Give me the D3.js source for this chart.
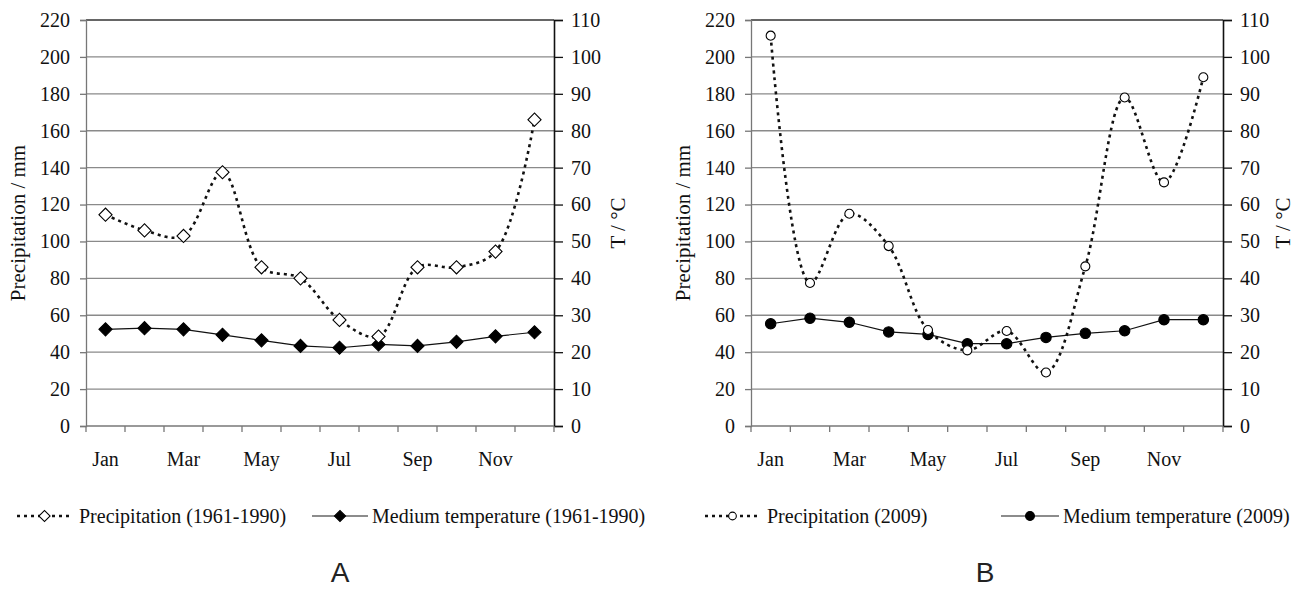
<!DOCTYPE html>
<html>
<head>
<meta charset="utf-8">
<script src="https://cdn.jsdelivr.net/npm/d3@7"></script>
<style>
	body { margin: 0; background: #fff; }
	svg { display: block; }
	.serif { font-family: 'Liberation Serif', 'Times New Roman', serif; fill: #111; }
</style>
</head>
<body>
<script>
var months = ['Jan', 'Feb', 'Mar', 'Apr', 'May', 'Jun', 'Jul', 'Aug', 'Sep', 'Oct', 'Nov', 'Dec'];
var monthLabels = ['Jan', 'Mar', 'May', 'Jul', 'Sep', 'Nov'];
var precipTicks = [0, 20, 40, 60, 80, 100, 120, 140, 160, 180, 200, 220];
var tempTicks = [0, 10, 20, 30, 40, 50, 60, 70, 80, 90, 100, 110];

// panel A: 1961-1990 averages
var precipA = [114.5, 106, 103, 137.5, 86, 80, 57.5, 48.5, 86, 86, 94.5, 166];
var tempA = [26.2, 26.5, 26.2, 24.7, 23.2, 21.7, 21.2, 22.1, 21.7, 22.8, 24.3, 25.4];
var legendA = ['Precipitation (1961-1990)', 'Medium temperature (1961-1990)'];

// panel B: 2009
var precipB = [211.5, 77.5, 115, 97.5, 52, 41, 51.5, 29, 86.5, 178, 132, 189];
var tempB = [27.7, 29.2, 28.1, 25.5, 24.8, 22.3, 22.3, 24.0, 25.1, 25.8, 28.8, 28.8];
var legendB = ['Precipitation (2009)', 'Medium temperature (2009)'];

var width = 1294, height = 589;
var top_ = 20, bottom = 426;
var serif = "'Liberation Serif', 'Times New Roman', serif";

var svg = d3.select('body').append('svg')
	.attr('width', width)
	.attr('height', height);

function styleTicks(axis, color) {
	axis.attr('font-family', serif).attr('font-size', 20);
	axis.select('.domain').attr('stroke', color).attr('stroke-width', color === '#111' ? 1.6 : 1.3);
	axis.selectAll('.tick line').attr('stroke', color).attr('stroke-width', 1.3);
	axis.selectAll('.tick text')
		.attr('class', 'serif')
		.attr('font-family', serif)
		.attr('fill', '#111');
}

function drawPanel(o) {
	var g = svg.append('g');

	var x = d3.scaleBand().domain(months).range([o.x0, o.x1]).padding(0);
	var yP = d3.scaleLinear().domain([0, 220]).range([bottom, top_]);
	var yT = d3.scaleLinear().domain([0, 110]).range([bottom, top_]);
	var cx = function(d, i) { return x(months[i]) + x.bandwidth() / 2; };

	// gridlines
	g.selectAll('line.grid')
		.data(precipTicks.slice(1))
		.enter().append('line')
		.attr('x1', o.x0).attr('x2', o.x1)
		.attr('y1', function(d) { return yP(d); })
		.attr('y2', function(d) { return yP(d); })
		.attr('stroke', function(d) { return d === 220 ? '#333' : '#8a8a8a'; })
		.attr('stroke-width', function(d) { return d === 220 ? 1.6 : 1.3; });

	// left axis
	var left = g.append('g').attr('transform', 'translate(' + o.x0 + ',0)')
		.call(d3.axisLeft(yP).tickValues(precipTicks).tickSize(6).tickPadding(10));
	styleTicks(left, '#777');

	// right axis
	var right = g.append('g').attr('transform', 'translate(' + o.x1 + ',0)')
		.call(d3.axisRight(yT).tickValues(tempTicks).tickSize(9).tickPadding(8));
	styleTicks(right, '#111');

	// bottom axis: ticks between months
	g.append('line')
		.attr('x1', o.x0).attr('x2', o.x1)
		.attr('y1', bottom).attr('y2', bottom)
		.attr('stroke', '#777').attr('stroke-width', 1.3);
	g.selectAll('line.xtick')
		.data(months.concat(['end']))
		.enter().append('line')
		.attr('x1', function(d, i) { return o.x0 + i * x.bandwidth(); })
		.attr('x2', function(d, i) { return o.x0 + i * x.bandwidth(); })
		.attr('y1', bottom).attr('y2', bottom + 6)
		.attr('stroke', '#777').attr('stroke-width', 1.3);
	g.selectAll('text.xlab')
		.data(monthLabels)
		.enter().append('text')
		.attr('class', 'serif')
		.attr('x', function(d) { return x(d) + x.bandwidth() / 2; })
		.attr('y', 466)
		.attr('text-anchor', 'middle')
		.attr('font-size', 20)
		.text(function(d) { return d; });

	// axis titles
	g.append('text').attr('class', 'serif')
		.attr('transform', 'translate(' + (o.x0 - 68) + ',' + ((top_ + bottom) / 2) + ') rotate(-90)')
		.attr('text-anchor', 'middle')
		.attr('dy', '0.35em')
		.attr('font-size', 21)
		.text('Precipitation / mm');
	g.append('text').attr('class', 'serif')
		.attr('transform', 'translate(' + (o.x1 + o.titleR) + ',' + ((top_ + bottom) / 2) + ') rotate(-90)')
		.attr('text-anchor', 'middle')
		.attr('dy', '0.35em')
		.attr('font-size', 21)
		.text('T / \u00B0C');

	// temperature line
	var tLine = d3.line().x(cx).y(function(d) { return yT(d); });
	g.append('path')
		.attr('d', tLine(o.temp))
		.attr('fill', 'none')
		.attr('stroke', '#111')
		.attr('stroke-width', 1.2);

	// precipitation line (smoothed)
	var pLine = d3.line().x(cx).y(function(d) { return yP(d); }).curve(d3.curveCatmullRom.alpha(0.5));
	g.append('path')
		.attr('d', pLine(o.precip))
		.attr('fill', 'none')
		.attr('stroke', '#111')
		.attr('stroke-width', 2.6)
		.attr('stroke-dasharray', '3 4');

	drawMarkers(g, o.temp.map(function(d, i) { return [cx(d, i), yT(d)]; }), o.marker, true);
	drawMarkers(g, o.precip.map(function(d, i) { return [cx(d, i), yP(d)]; }), o.marker, false);

	// legend
	var ly = 516;
	g.append('line')
		.attr('x1', o.leg[0]).attr('x2', o.leg[1])
		.attr('y1', ly).attr('y2', ly)
		.attr('stroke', '#111').attr('stroke-width', 2.6).attr('stroke-dasharray', '3 4');
	drawMarkers(g, [[(o.leg[0] + o.leg[1]) / 2, ly]], o.marker, false, 0.85);
	g.append('text').attr('class', 'serif')
		.attr('x', o.leg[2]).attr('y', ly + 7)
		.attr('font-size', 20)
		.text(o.legend[0]);

	g.append('line')
		.attr('x1', o.leg[3]).attr('x2', o.leg[4])
		.attr('y1', ly).attr('y2', ly)
		.attr('stroke', '#666').attr('stroke-width', 1.5);
	drawMarkers(g, [[(o.leg[3] + o.leg[4]) / 2, ly]], o.marker, true, 0.85);
	g.append('text').attr('class', 'serif')
		.attr('x', o.leg[5]).attr('y', ly + 7)
		.attr('font-size', 20)
		.text(o.legend[1]);

	// panel letter
	g.append('text')
		.attr('x', o.letterX).attr('y', 582)
		.attr('text-anchor', 'middle')
		.attr('font-family', "'Liberation Sans', Arial, sans-serif")
		.attr('font-size', 28)
		.attr('fill', '#222')
		.text(o.letter);
}

function drawMarkers(g, pts, kind, filled, scale) {
	var s = scale || 1;
	var sym = kind === 'diamond'
		? d3.symbol().type(d3.symbolSquare).size(86 * s * s)
		: d3.symbol().type(d3.symbolCircle).size((filled ? 85 : 64) * s * s);
	g.selectAll(null)
		.data(pts)
		.enter().append('path')
		.attr('d', sym())
		.attr('transform', function(d) {
			return 'translate(' + d[0] + ',' + d[1] + ')' + (kind === 'diamond' ? ' rotate(45)' : '');
		})
		.attr('fill', filled ? '#000' : '#fff')
		.attr('stroke', '#000')
		.attr('stroke-width', 1.1);
}

drawPanel({
	x0: 86, x1: 554,
	precip: precipA, temp: tempA,
	marker: 'diamond',
	legend: legendA,
	leg: [17, 72, 79, 312, 368, 372],
	titleR: 64,
	letter: 'A', letterX: 340
});

drawPanel({
	x0: 751, x1: 1223,
	precip: precipB, temp: tempB,
	marker: 'circle',
	legend: legendB,
	leg: [705, 760, 767, 1001, 1059, 1063],
	titleR: 60,
	letter: 'B', letterX: 985
});
</script>
</body>
</html>
